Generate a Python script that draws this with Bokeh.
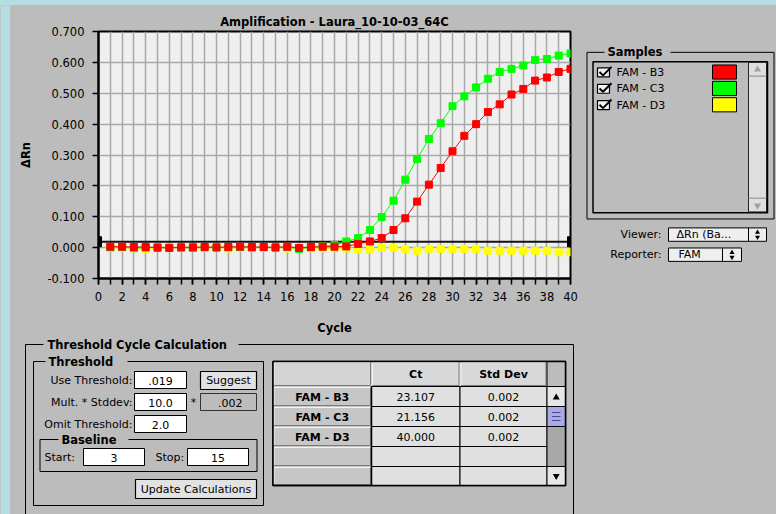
from bokeh.plotting import figure
from bokeh.layouts import row, column
from bokeh.models import Range1d, SingleIntervalTicker, FixedTicker, NumeralTickFormatter
from bokeh.core.properties import value
from bokeh.embed import file_html
from bokeh.resources import INLINE

# ---------------- data ----------------
cycles = list(range(1, 41))
fam_b3 = [0.003, 0.003, 0.002, 0.002, 0.000, -0.001, 0.001, 0.001, 0.002, 0.001,
          0.002, 0.003, 0.002, 0.002, 0.001, 0.003, -0.001, 0.002, 0.003, 0.003,
          0.004, 0.012, 0.020, 0.031, 0.057, 0.095, 0.149, 0.204, 0.258, 0.312,
          0.362, 0.400, 0.439, 0.464, 0.496, 0.514, 0.541, 0.551, 0.569, 0.579]
fam_c3 = [0.001, 0.002, -0.002, 0.000, 0.001, 0.000, 0.000, -0.001, 0.001, 0.000,
          0.001, 0.002, 0.000, 0.001, -0.001, 0.002, -0.004, 0.001, 0.004, 0.008,
          0.020, 0.031, 0.057, 0.099, 0.152, 0.220, 0.287, 0.352, 0.403, 0.458,
          0.490, 0.519, 0.547, 0.569, 0.579, 0.590, 0.608, 0.611, 0.622, 0.629]
fam_d3 = [-0.001, 0.000, -0.002, -0.005, -0.001, -0.001, 0.000, -0.001, -0.001, 0.000,
          -0.003, 0.000, -0.001, -0.001, 0.000, -0.003, -0.001, -0.002, -0.002, -0.002,
          -0.003, -0.006, -0.006, -0.001, -0.001, -0.004, -0.010, -0.004, -0.004, -0.004,
          -0.004, -0.004, -0.010, -0.010, -0.010, -0.010, -0.010, -0.010, -0.015, -0.015]
sample_names = ["FAM - B3", "FAM - C3", "FAM - D3"]
sample_colors = ["#ff0000", "#00ff00", "#ffff00"]
ct_values = ["23.107", "21.156", "40.000"]
std_dev_values = ["0.002", "0.002", "0.002"]
threshold = 0.019
x_start, x_end = 0, 40
y_start, y_end = -0.1, 0.7
y_ticks = [-0.1, 0.0, 0.1, 0.2, 0.3, 0.4, 0.5, 0.6, 0.7]
chart_title = "Amplification - Laura_10-10-03_64C"

FONT = "DejaVu Sans"
GREY = "#bcbcbc"
BLUE = "#b6dde1"

# ---------------- chart ----------------
p = figure(width=570, height=332, output_backend="svg", toolbar_location=None,
           x_range=Range1d(x_start, x_end), y_range=Range1d(y_start, y_end),
           min_border_left=88, min_border_right=10, min_border_top=26, min_border_bottom=58,
           background_fill_color="#efefef", border_fill_color=GREY, title=chart_title)
p.title.align = "center"
p.title.text_font = FONT
p.title.text_font_size = "11.5px"
p.title.text_font_style = "bold"
p.title.text_color = "black"
p.title.standoff = 6
p.outline_line_color = "black"
p.outline_line_width = 2

p.xaxis.ticker = SingleIntervalTicker(interval=2, num_minor_ticks=2)
p.yaxis.ticker = FixedTicker(ticks=y_ticks)
p.yaxis.formatter = NumeralTickFormatter(format="0.000")
p.xgrid.ticker = SingleIntervalTicker(interval=1)
p.ygrid.ticker = FixedTicker(ticks=y_ticks)
p.grid.grid_line_color = "#a8a8a8"
p.grid.grid_line_width = 1.5

for ax in (p.xaxis, p.yaxis):
    ax.axis_line_color = "black"
    ax.axis_line_width = 2
    ax.major_tick_in = 0
    ax.major_tick_out = 6
    ax.minor_tick_in = 0
    ax.minor_tick_out = 6
    ax.major_tick_line_color = "black"
    ax.major_tick_line_width = 1.5
    ax.minor_tick_line_color = "black"
    ax.minor_tick_line_width = 1.5
    ax.major_label_text_font = FONT
    ax.major_label_text_font_size = "11.5px"
    ax.major_label_text_color = "black"
    ax.axis_label_text_font = FONT
    ax.axis_label_text_font_size = "11.5px"
    ax.axis_label_text_font_style = "bold"
    ax.axis_label_text_color = "black"
p.yaxis.minor_tick_line_color = None
p.xaxis.axis_label = "Cycle"
p.yaxis.axis_label = "\u0394Rn"
p.xaxis.major_label_standoff = 7
p.xaxis.axis_label_standoff = 17
p.yaxis.major_label_standoff = 8
p.yaxis.axis_label_standoff = 11

# threshold line + handles
p.line([x_start, x_end], [threshold, threshold], line_color="#111111", line_width=2)
p.rect(x=[x_start, x_end], y=[threshold, threshold], width=6, height=10,
       width_units="screen", height_units="screen", fill_color="black", line_color="black")

for vals, col in zip([fam_d3, fam_c3, fam_b3], [sample_colors[2], sample_colors[1], sample_colors[0]]):
    p.line(cycles, vals, line_color=col, line_width=1)
    p.scatter(cycles, vals, marker="square", size=7, fill_color=col, line_color=col)


# ---------------- helpers for UI panels ----------------
def canvas(width, height, x0, x1, y0, y1, bg=GREY):
    f = figure(width=width, height=height, x_range=Range1d(x0, x1), y_range=Range1d(y1, y0),
               x_axis_type=None, y_axis_type=None, output_backend="svg", toolbar_location=None,
               min_border=0, background_fill_color=bg, border_fill_color=bg,
               outline_line_color=None)
    f.grid.visible = False
    return f


def box(f, l, t, r, b, fill=None, line="black", lw=1):
    f.quad(left=[l], right=[r], top=[t], bottom=[b], fill_color=fill,
           line_color=line, line_width=lw)


def txt(f, x, y, s, align="left", bold=False, size="11px", color="black"):
    f.text(x=[x], y=[y], text=[s], text_font=value(FONT), text_font_size=size,
           text_font_style="bold" if bold else "normal", text_align=align,
           text_baseline="middle", text_color=color)


def group(f, l, t, r, b, title, gap_l, gap_r, title_x):
    f.segment(x0=[l, gap_r, l, r, l], y0=[t, t, t, t, b], x1=[gap_l, r, l, r, r],
              y1=[t, t, b, b, b], line_color="black", line_width=1)
    txt(f, title_x, t, title, bold=True, size="11.5px")


def bevel(f, l, t, r, b, light="#f4f4f4", dark="#7a7a7a"):
    f.segment(x0=[l, l], y0=[t, t], x1=[r, l], y1=[t, b], line_color=light, line_width=1)
    f.segment(x0=[l, r], y0=[b, t], x1=[r, r], y1=[b, b], line_color=dark, line_width=1)


# ---------------- strips ----------------
top_strip = canvas(776, 5, 0, 776, 0, 5, bg=BLUE)
left_strip = canvas(10, 509, 0, 10, 5, 514, bg=BLUE)

# ---------------- samples panel ----------------
s = canvas(196, 332, 580, 776, 5, 337)
group(s, 586.5, 33, 773.5, 257, "Samples", 604, 670, 607)
box(s, 592.5, 45.5, 767, 248.5, fill=GREY, line="black", lw=1.5)
box(s, 748, 46.5, 766, 247.5, fill="#dedede", line="#222222", lw=1)
s.segment(x0=[748, 748], y0=[65, 229], x1=[766, 766], y1=[65, 229], line_color="#8a8a8a")
s.scatter(x=[757], y=[56], marker="triangle", size=7, fill_color="#a0a0a0", line_color=None)
s.scatter(x=[757], y=[239], marker="inverted_triangle", size=7, fill_color="#a0a0a0", line_color=None)
for i, (name, col) in enumerate(zip(sample_names, sample_colors)):
    ry = 60 + 22 * i
    box(s, 597, ry - 6, 609, ry + 6, fill="#f2f2f2", line="black", lw=1.2)
    s.line([599, 602.5, 611], [ry - 0.5, ry + 4, ry - 7.5], line_color="black", line_width=2)
    txt(s, 616, ry, name, size="11px")
    box(s, 712, ry - 10, 736, ry + 9, fill=col, line="black", lw=1)

txt(s, 661, 278, "Viewer:", align="right")
box(s, 668, 269, 766, 287, fill="#eeeeee", line="black", lw=1)
s.segment(x0=[748], y0=[269], x1=[748], y1=[287], line_color="black")
txt(s, 676, 278, "\u0394Rn (Ba...", size="11px")
s.scatter(x=[757, 757], y=[275, 281.5], marker=["triangle", "inverted_triangle"], size=5,
          fill_color="black", line_color=None)

txt(s, 661, 305, "Reporter:", align="right")
box(s, 668, 296, 741, 314, fill="#eeeeee", line="black", lw=1)
s.segment(x0=[722], y0=[296], x1=[722], y1=[314], line_color="black")
txt(s, 678, 305, "FAM", size="11px")
s.scatter(x=[731.5, 731.5], y=[302, 308.5], marker=["triangle", "inverted_triangle"], size=5,
          fill_color="black", line_color=None)

# ---------------- threshold panel ----------------
b = canvas(766, 177, 10, 776, 337, 514)
group(b, 25, 344, 573, 530, "Threshold Cycle Calculation", 43, 238, 47)
group(b, 33, 361, 263, 505, "Threshold", 45, 127, 48)

labels = ["Use Threshold:", "Mult. * Stddev:", "Omit Threshold:"]
fields = [".019", "10.0", "2.0"]
for i, (lab, fv) in enumerate(zip(labels, fields)):
    cy = 379.5 + 22 * i
    txt(b, 132, cy, lab, align="right")
    box(b, 134, cy - 8.5, 186, cy + 8.5, fill="white", line="black", lw=1)
    txt(b, 160, cy + 0.5, fv, align="center")

box(b, 200, 371, 256, 389, fill="#e2e2e2", line="black", lw=1.2)
txt(b, 228, 380, "Suggest", align="center")
txt(b, 193, 402, "*", align="center")
box(b, 200, 393, 256, 410, fill=GREY, line="#333333", lw=1)
txt(b, 242, 402, ".002", align="right")

group(b, 39.5, 439, 256.5, 471, "Baseline", 58, 128, 61)
txt(b, 44, 456.5, "Start:")
box(b, 83, 448, 144, 465, fill="white", line="black", lw=1)
txt(b, 113.5, 457, "3", align="center")
txt(b, 155, 456.5, "Stop:")
box(b, 187, 448, 248, 465, fill="white", line="black", lw=1)
txt(b, 217.5, 457, "15", align="center")

box(b, 135, 479, 256, 498, fill="#e2e2e2", line="black", lw=1.2)
txt(b, 195.5, 488.5, "Update Calculations", align="center")

# table
c0, c1, c2, c3, c4 = 272.5, 371, 459.5, 546.5, 565
r_top, r_head = 361, 386
row_h = 20
box(b, c0, r_top, c4, 485, fill="#c8c8c8", line="black", lw=1.5)
box(b, c0, r_top, c1, r_head, fill="#d4d4d4", line=None)
bevel(b, c0 + 1, r_top + 1, c1 - 1, r_head - 1)
for (l, r) in [(c1, c2), (c2, c3)]:
    box(b, l, r_top, r, r_head, fill="#d8d8d8", line=None)
    bevel(b, l + 1, r_top + 1, r - 1, r_head - 1)
box(b, c3, r_top, c4, r_head, fill=GREY, line="black", lw=1)
txt(b, (c1 + c2) / 2, 374, "Ct", align="center", bold=True)
txt(b, (c2 + c3) / 2, 374, "Std Dev", align="center", bold=True)
for k in range(5):
    rt = r_head + row_h * k
    rb = min(rt + row_h, 485)
    box(b, c0, rt, c1, rb, fill="#c6c6c6", line=None)
    bevel(b, c0 + 1, rt + 1, c1 - 1, rb - 1)
    box(b, c1, rt, c2, rb, fill="#e0e0e0", line="black", lw=1)
    box(b, c2, rt, c3, rb, fill="#e0e0e0", line="black", lw=1)
for k, (nm, ct, sd) in enumerate(zip(sample_names, ct_values, std_dev_values)):
    cy = r_head + row_h * k + 10.5
    txt(b, (c0 + c1) / 2, cy, nm, align="center", bold=True)
    txt(b, (c1 + c2) / 2, cy, ct, align="center")
    txt(b, (c2 + c3) / 2, cy, sd, align="center")
# table scrollbar
box(b, c3, 386, c4, 406, fill="#e6e6e6", line="black", lw=1)
box(b, c3, 406, c4, 426, fill="#a9a9e8", line="black", lw=1)
b.segment(x0=[c3 + 5] * 3, y0=[412, 416, 420], x1=[c4 - 5] * 3, y1=[412, 416, 420],
          line_color="#4a4a8a", line_width=1)
box(b, c3, 426, c4, 466, fill="#a8a8a8", line="black", lw=1)
box(b, c3, 466, c4, 485, fill="#e6e6e6", line="black", lw=1)
b.scatter(x=[(c3 + c4) / 2], y=[397], marker="triangle", size=7, fill_color="black", line_color=None)
b.scatter(x=[(c3 + c4) / 2], y=[475.5], marker="inverted_triangle", size=7, fill_color="black", line_color=None)
box(b, c0, r_top, c4, 485, fill=None, line="black", lw=1.5)
b.segment(x0=[c1], y0=[r_head], x1=[c1], y1=[485], line_color="black", line_width=1.5)

main = column(row(p, s, styles={"background-color": GREY}), b,
              styles={"background-color": GREY})
layout = column(top_strip, row(left_strip, main, styles={"background-color": GREY}),
                styles={"background-color": BLUE})
open("out.html", "w").write(file_html(layout, INLINE))
